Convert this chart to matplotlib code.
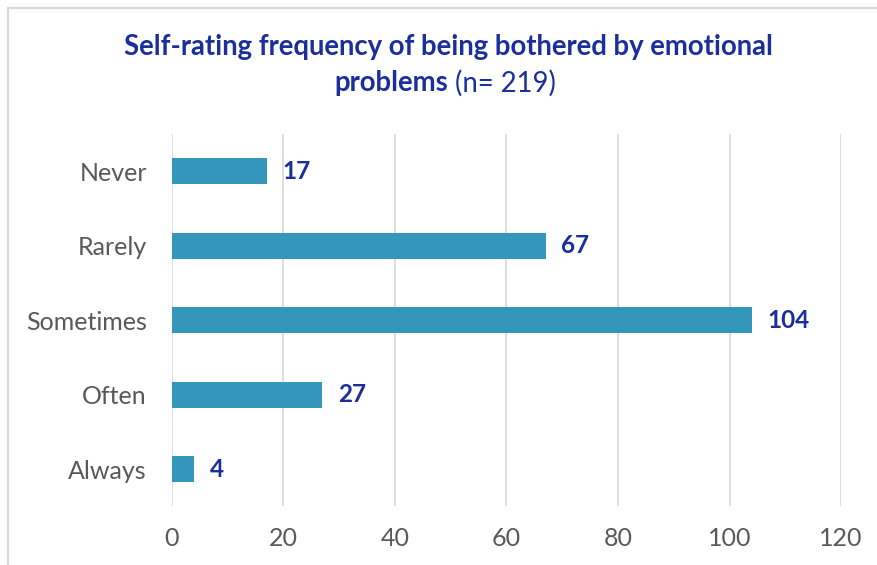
import matplotlib.pyplot as plt
from matplotlib.patches import Rectangle

# Survey responses (n = 219)
categories = ['Never', 'Rarely', 'Sometimes', 'Often', 'Always']
counts = [17, 67, 104, 27, 4]
x_ticks = [0, 20, 40, 60, 80, 100, 120]

bar_color = '#3596BC'
label_color = '#1B2E9E'
tick_color = '#595959'
grid_color = '#D9D9D9'

plt.rcParams['font.family'] = ['Lato', 'DejaVu Sans']

fig = plt.figure(figsize=(8.77, 5.65), dpi=100)
ax = fig.add_axes([0.196, 0.104, 0.763, 0.659])

pos = list(range(len(categories)))
ax.barh(pos, counts, height=0.35, color=bar_color, zorder=3)
ax.set_ylim(len(categories) - 0.5, -0.5)
ax.set_yticks(pos)
ax.set_yticklabels(categories)

ax.set_xlim(0, 120)
ax.set_xticks(x_ticks)
ax.grid(axis='x', color=grid_color, linewidth=1.2, zorder=0)
for s in ax.spines.values():
    s.set_visible(False)
ax.tick_params(axis='both', length=0, labelsize=18, labelcolor=tick_color)
ax.tick_params(axis='y', pad=18)
ax.tick_params(axis='x', pad=15)

# Value labels at bar ends
for p, v in zip(pos, counts):
    ax.annotate(str(v), (v, p), xytext=(11, 0), textcoords='offset points',
                va='center', ha='left', fontsize=17.5, fontweight='bold',
                color=label_color)

# Title: bold first part, count in regular weight
fig.text(0.511, 0.917, 'Self-rating frequency of being bothered by emotional',
         ha='center', va='center', fontsize=19.8, fontweight='bold', color=label_color)
fig.text(0.511, 0.853, 'problems', ha='right', va='center', fontsize=19.8,
         fontweight='bold', color=label_color)
fig.text(0.511, 0.853, ' (n= 219)', ha='left', va='center', fontsize=19.8,
         color=label_color)

# Light chart frame
fig.patches.append(Rectangle((8 / 877, -0.1), 1.2, 1.1 - 8 / 565,
                             transform=fig.transFigure, fill=False,
                             edgecolor=grid_color, linewidth=1.5))

fig.savefig('out.png', dpi=100)
